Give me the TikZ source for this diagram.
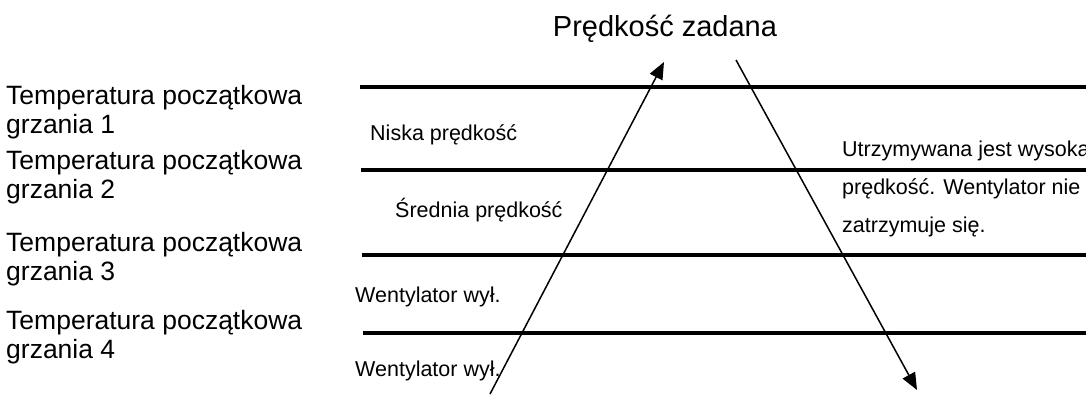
\documentclass[tikz,border=0pt]{standalone}
\usepackage{fontspec}
\setmainfont{Liberation Sans}
\usetikzlibrary{arrows.meta}
\begin{document}
\begin{tikzpicture}[x=1pt,y=-1pt,
  lbl/.style={anchor=base west,inner sep=0pt,font=\fontsize{26.5}{29}\selectfont,align=left},
  mid/.style={anchor=base west,inner sep=0pt,font=\fontsize{21.5}{24}\selectfont},
  ttl/.style={anchor=base,inner sep=0pt,font=\fontsize{29}{32}\selectfont},
  hline/.style={line width=3.2pt},
  arr/.style={line width=1.5pt,-{Triangle[length=17pt,width=14pt]}}]
\useasboundingbox[fill=white] (0,0) rectangle (1086,394);
% title
\node[ttl] (title) at (665,36) {Prędkość zadana};
% left labels
\node[lbl] (t1a) at (6,104) {Temperatura początkowa};
\node[lbl] (t1b) at (6,133) {grzania 1};
\node[lbl] (t2a) at (6,169) {Temperatura początkowa};
\node[lbl] (t2b) at (6,198) {grzania 2};
\node[lbl] (t3a) at (6,251) {Temperatura początkowa};
\node[lbl] (t3b) at (6,280) {grzania 3};
\node[lbl] (t4a) at (6,329) {Temperatura początkowa};
\node[lbl] (t4b) at (6,358) {grzania 4};
% horizontal lines
\coordinate (l1s) at (360,87);  \coordinate (l1e) at (1086,87);
\coordinate (l2s) at (361,170); \coordinate (l2e) at (1086,170);
\coordinate (l3s) at (362,255); \coordinate (l3e) at (1086,255);
\coordinate (l4s) at (363,333); \coordinate (l4e) at (1086,333);
\draw[hline] (l1s) -- (l1e);
\draw[hline] (l2s) -- (l2e);
\draw[hline] (l3s) -- (l3e);
\draw[hline] (l4s) -- (l4e);
% middle texts
\node[mid] (m1) at (370,140) {Niska prędkość};
\node[mid] (m2) at (395,217) {Średnia prędkość};
\node[mid] (m3) at (355,302) {Wentylator wył.};
\node[mid] (m4) at (355,376) {Wentylator wył.};
\node[mid] (r1) at (842,156) {Utrzymywana jest wysoka};
\node[mid] (r2) at (842,194) {prędkość. Wentylator nie};
\node[mid] (r3) at (842,232) {zatrzymuje się.};
% arrows
\coordinate (ups) at (490,394); \coordinate (upe) at (664,62);
\coordinate (dns) at (736,60);  \coordinate (dne) at (917,390);
\draw[arr] (ups) -- (upe);
\draw[arr] (dns) -- (dne);
\end{tikzpicture}
\end{document}
